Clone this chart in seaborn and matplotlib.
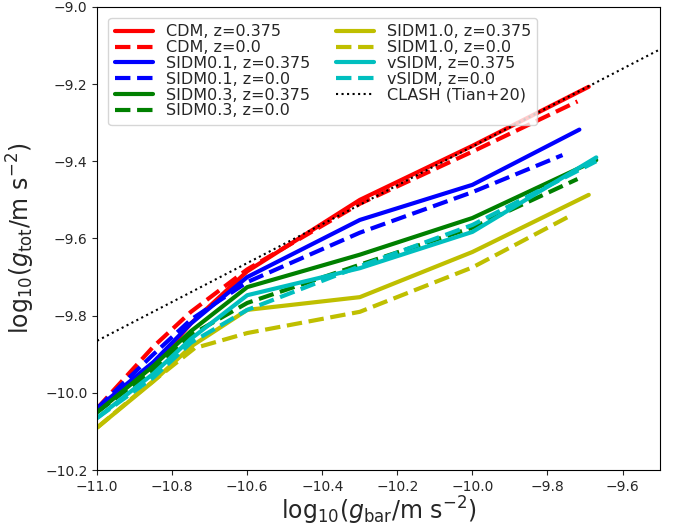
import matplotlib
matplotlib.use("Agg")
import matplotlib.pyplot as plt
import seaborn as sns
import pandas as pd

# ---- data ----
x_cdm375 = [-11.0, -10.85, -10.75, -10.6, -10.3, -10.0, -9.69]
y_cdm375 = [-10.04, -9.93, -9.82, -9.685, -9.50, -9.36, -9.207]
x_cdm0 = [-11.0, -10.85, -10.75, -10.6, -10.3, -10.0, -9.72]
y_cdm0 = [-10.04, -9.88, -9.79, -9.68, -9.51, -9.375, -9.245]
x_s01_375 = [-11.0, -10.85, -10.75, -10.6, -10.3, -10.0, -9.715]
y_s01_375 = [-10.04, -9.92, -9.82, -9.70, -9.552, -9.461, -9.318]
x_s01_0 = [-11.0, -10.85, -10.75, -10.6, -10.3, -10.0, -9.76]
y_s01_0 = [-10.04, -9.90, -9.81, -9.713, -9.585, -9.48, -9.384]
x_s03_375 = [-11.0, -10.85, -10.75, -10.6, -10.3, -10.0, -9.67]
y_s03_375 = [-10.05, -9.93, -9.84, -9.726, -9.642, -9.547, -9.397]
x_s03_0 = [-11.0, -10.85, -10.75, -10.6, -10.3, -10.0, -9.72]
y_s03_0 = [-10.05, -9.94, -9.85, -9.767, -9.668, -9.572, -9.446]
x_s10_375 = [-11.0, -10.85, -10.75, -10.6, -10.3, -10.0, -9.69]
y_s10_375 = [-10.09, -9.97, -9.88, -9.785, -9.752, -9.635, -9.487]
x_s10_0 = [-11.0, -10.89, -10.74, -10.6, -10.3, -10.0, -9.735]
y_s10_0 = [-10.09, -10.0, -9.884, -9.845, -9.79, -9.675, -9.539]
x_vs_375 = [-11.0, -10.85, -10.75, -10.6, -10.3, -10.0, -9.67]
y_vs_375 = [-10.065, -9.95, -9.86, -9.747, -9.677, -9.583, -9.39]
x_vs_0 = [-11.0, -10.85, -10.75, -10.6, -10.3, -10.0, -9.67]
y_vs_0 = [-10.065, -9.96, -9.87, -9.785, -9.672, -9.565, -9.40]
x_clash = [-11.0, -9.5]
y_clash = [-9.865, -9.11]

series = [
    ("CDM, z=0.375", x_cdm375, y_cdm375, "r", "-"),
    ("CDM, z=0.0", x_cdm0, y_cdm0, "r", "--"),
    ("SIDM0.1, z=0.375", x_s01_375, y_s01_375, "b", "-"),
    ("SIDM0.1, z=0.0", x_s01_0, y_s01_0, "b", "--"),
    ("SIDM0.3, z=0.375", x_s03_375, y_s03_375, "g", "-"),
    ("SIDM0.3, z=0.0", x_s03_0, y_s03_0, "g", "--"),
    ("SIDM1.0, z=0.375", x_s10_375, y_s10_375, "y", "-"),
    ("SIDM1.0, z=0.0", x_s10_0, y_s10_0, "y", "--"),
    ("vSIDM, z=0.375", x_vs_375, y_vs_375, "c", "-"),
    ("vSIDM, z=0.0", x_vs_0, y_vs_0, "c", "--"),
]

sns.set_style("ticks")
plt.rcParams['font.family'] = ['DejaVu Sans']
plt.rcParams['mathtext.fontset'] = 'dejavusans'

fig = plt.figure(figsize=(6.89, 5.27), dpi=100)
ax = fig.add_axes([0.141, 0.108, 0.817, 0.879])

for label, xs, ys, c, ls in series:
    df = pd.DataFrame({"x": xs, "y": ys})
    sns.lineplot(data=df, x="x", y="y", ax=ax, color=c, linestyle=ls,
                 lw=3, label=label, sort=False, estimator=None)

dfc = pd.DataFrame({"x": x_clash, "y": y_clash})
sns.lineplot(data=dfc, x="x", y="y", ax=ax, color="k", linestyle=":",
             lw=1.5, label="CLASH (Tian+20)", sort=False, estimator=None)

ax.set_xlim(-11.0, -9.5)
ax.set_ylim(-10.2, -9.0)
ax.set_xticks([-11.0, -10.8, -10.6, -10.4, -10.2, -10.0, -9.8, -9.6])
ax.set_yticks([-10.2, -10.0, -9.8, -9.6, -9.4, -9.2, -9.0])
ax.tick_params(labelsize=10, direction='out', length=3.5)
for s in ax.spines.values():
    s.set_visible(True)
    s.set_linewidth(0.8)
    s.set_color('k')

ax.set_xlabel(r"${\rm log}_{10}(g_{\rm bar}/{\rm m\ s^{-2}})$", fontsize=17, labelpad=1)
ax.set_ylabel(r"${\rm log}_{10}(g_{\rm tot}/{\rm m\ s^{-2}})$", fontsize=17, labelpad=6)

ax.legend(loc="upper left", ncol=2, fontsize=11.5, labelspacing=0.05,
          handlelength=2.4, columnspacing=1.6, borderaxespad=0.7, frameon=True)

fig.savefig("out.png", dpi=100)
